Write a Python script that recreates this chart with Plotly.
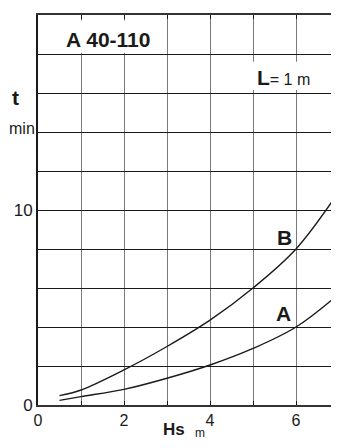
import plotly.graph_objects as go

# Hs (m) vs. time t (min)
hs = [0.5, 1, 2, 3, 4, 5, 6, 7]
t_a = [0.24, 0.43, 0.8, 1.37, 2.05, 2.9, 4.0, 5.7]
t_b = [0.48, 0.77, 1.8, 3.0, 4.35, 6.0, 8.0, 10.95]

x_ticks = [0, 1, 2, 3, 4, 5, 6, 7]
x_labels = ["0", "", "2", "", "4", "", "6", ""]
y_ticks = [0, 2, 4, 6, 8, 10, 12, 14, 16, 18, 20]
y_labels = ["0", "", "", "", "", "10", "", "", "", "", "20"]

font = "Liberation Sans, Arial, sans-serif"
ink = "#1a1a1a"

fig = go.Figure()
for y, name in [(t_b, "B"), (t_a, "A")]:
    fig.add_trace(go.Scatter(
        x=hs, y=y, name=name, mode="lines",
        line=dict(color=ink, width=1.4, shape="spline", smoothing=1.0),
        hoverinfo="skip", showlegend=False,
    ))

# white patches behind the two labels
fig.add_shape(type="rect", x0=0.03, x1=2.95, y0=18.06, y1=19.72,
              fillcolor="white", line_width=0, layer="above")
fig.add_shape(type="rect", x0=4.99, x1=6.47, y0=16.15, y1=17.6,
              fillcolor="white", line_width=0, layer="above")

annots = [
    dict(x=1.63, y=18.75, text="<b>A 40-110</b>", size=21),
    dict(x=5.72, y=16.78, text="<b><span style='font-size:21px'>L</span></b>= 1 m", size=16),
    dict(x=5.74, y=8.6, text="<b>B</b>", size=21),
    dict(x=5.70, y=4.67, text="<b>A</b>", size=21),
]
for a in annots:
    fig.add_annotation(x=a["x"], y=a["y"], text=a["text"], showarrow=False,
                       font=dict(family=font, size=a["size"], color=ink))

# axis titles as free text
paper_txt = [
    dict(x=-0.076, y=0.788, text="<b>t</b>", size=21),
    dict(x=-0.053, y=0.710, text="min", size=16),
    dict(x=0.452, y=-0.064, text="<b>Hs</b>", size=17),
    dict(x=0.538, y=-0.072, text="m", size=12),
]
for a in paper_txt:
    fig.add_annotation(x=a["x"], y=a["y"], xref="paper", yref="paper",
                       xanchor="center", yanchor="middle",
                       text=a["text"], showarrow=False,
                       font=dict(family=font, size=a["size"], color=ink))

fig.update_xaxes(
    range=[0, 7], tickvals=x_ticks, ticktext=x_labels,
    showgrid=True, gridcolor="#7a7a7a", gridwidth=1.3,
    showline=True, linecolor="#333333", linewidth=2, mirror="ticks",
    ticks="inside", ticklen=4, tickcolor=ink, automargin=False,
    tickfont=dict(family=font, size=16, color=ink), zeroline=False,
)
fig.update_yaxes(
    range=[0, 20], tickvals=y_ticks, ticktext=y_labels,
    showgrid=True, gridcolor=ink, gridwidth=1,
    showline=True, linecolor=ink, linewidth=2, automargin=False,
    ticks="", tickfont=dict(family=font, size=17, color=ink), zeroline=False,
)
# page body has an 8px margin, so the figure is sized to land the plot
# area where the original sits
fig.update_layout(
    width=331, height=440,
    margin=dict(l=30, r=0, t=7, b=43),
    paper_bgcolor="white", plot_bgcolor="white",
    font=dict(family=font, color=ink),
)

fig.write_html("out.html")
